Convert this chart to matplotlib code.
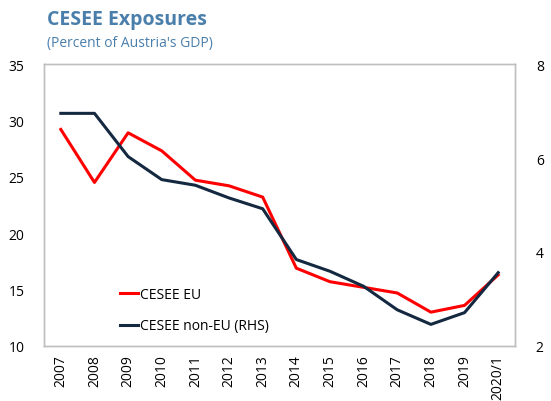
import matplotlib
matplotlib.use("Agg")
import matplotlib.pyplot as plt

plt.rcParams['font.family'] = ['Open Sans', 'DejaVu Sans']

# data
years = ['2007', '2008', '2009', '2010', '2011', '2012', '2013',
         '2014', '2015', '2016', '2017', '2018', '2019', '2020/1']
cesee_eu = [29.2, 24.5, 28.9, 27.3, 24.7, 24.2, 23.2,
            16.9, 15.7, 15.2, 14.7, 13.0, 13.6, 16.3]
cesee_non_eu = [6.95, 6.95, 6.03, 5.54, 5.42, 5.15, 4.92,
                3.84, 3.59, 3.27, 2.77, 2.46, 2.71, 3.56]

red = '#ff0000'
navy = '#142840'
frame_grey = '#bfbfbf'
title_blue = '#4a7fac'

fig = plt.figure(figsize=(5.51, 4.02), dpi=100)
ax = fig.add_axes([44 / 551, 1 - 347 / 402, (515 - 44) / 551, (347 - 65) / 402])
ax2 = ax.twinx()

x = list(range(len(years)))
l1, = ax.plot(x, cesee_eu, color=red, lw=2.2, label='CESEE EU')
l2, = ax2.plot(x, cesee_non_eu, color=navy, lw=2.2, label='CESEE non-EU (RHS)')

ax.set_xlim(-0.5, len(years) - 0.5)
ax.set_ylim(10, 35)
ax.set_yticks([10, 15, 20, 25, 30, 35])
ax2.set_ylim(2, 8)
ax2.set_yticks([2, 4, 6, 8])

ax.set_xticks(x)
ax.set_xticklabels(years, rotation=90)

for a in (ax, ax2):
    for s in a.spines.values():
        s.set_color(frame_grey)
        s.set_linewidth(1.0)
    a.tick_params(length=0, labelsize=10, colors='black')
ax.tick_params(axis='y', pad=14)
ax2.tick_params(axis='y', pad=15)
ax.tick_params(axis='x', pad=6)

ax.legend([l1, l2], ['CESEE EU', 'CESEE non-EU (RHS)'],
          loc='lower left', bbox_to_anchor=(0.135, 0.0), frameon=False,
          fontsize=10, handlelength=1.3, handletextpad=0.1,
          labelspacing=1.2)

fig.text(47 / 551, 1 - 20 / 402, 'CESEE Exposures', fontsize=14,
         fontweight='bold', color=title_blue, va='center', ha='left')
fig.text(47 / 551, 1 - 43 / 402, "(Percent of Austria's GDP)", fontsize=10,
         color=title_blue, va='center', ha='left')

fig.savefig('out.png', dpi=100)
